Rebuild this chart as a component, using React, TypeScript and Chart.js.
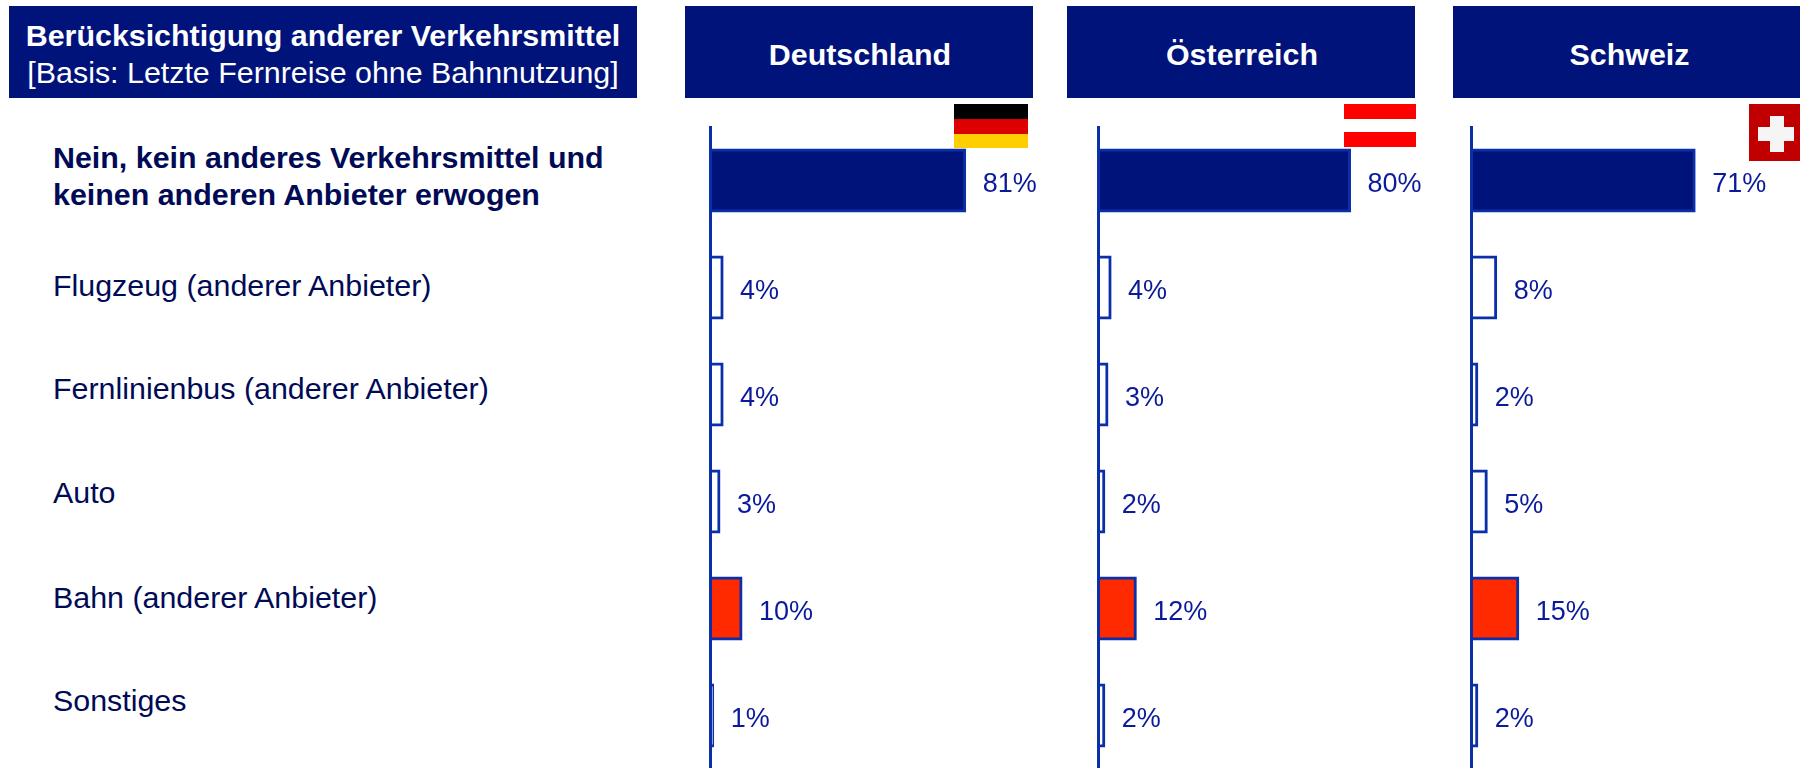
import React, { useEffect, useRef } from "react";
import { Chart, registerables } from "chart.js";

Chart.register(...registerables);

const categories = [
  "Nein, kein anderes Verkehrsmittel und\nkeinen anderen Anbieter erwogen",
  "Flugzeug (anderer Anbieter)",
  "Fernlinienbus (anderer Anbieter)",
  "Auto",
  "Bahn (anderer Anbieter)",
  "Sonstiges",
];
const germany = [81, 4, 4, 3, 10, 1];
const austria = [80, 4, 3, 2, 12, 2];
const switzerland = [71, 8, 2, 5, 15, 2];
const countries = ["Deutschland", "Österreich", "Schweiz"];
const titleBold = "Berücksichtigung anderer Verkehrsmittel";
const titleBasis = "[Basis: Letzte Fernreise ohne Bahnnutzung]";

const NAVY = "#00137A";
const EDGE = "#0B2FA8";
const RED = "#FF2A00";
const VALUE_TEXT = "#0A1A9A";
const LABEL_TEXT = "#000A55";
const FONT = '"Liberation Sans", Arial, sans-serif';

const fills = [NAVY, "#FFFFFF", "#FFFFFF", "#FFFFFF", RED, "#FFFFFF"];
const labelCenters = [176, 285, 388, 491.5, 597, 700];
const headerBoxes = [
  { left: 685, width: 348 },
  { left: 1067, width: 348 },
  { left: 1453, width: 351 },
];
const axisLefts = [709.5, 1097.5, 1470.5];
const PAD_LEFT = 4;
const PAD_TOP = 1;
const CANVAS_W = 334;
const CANVAS_TOP = 126;
const CANVAS_H = 643;

const valueLabels = {
  id: "valueLabels",
  afterDatasetsDraw(chart: any) {
    const { ctx } = chart;
    const meta = chart.getDatasetMeta(0);
    ctx.save();
    ctx.font = `27px ${FONT}`;
    ctx.fillStyle = VALUE_TEXT;
    ctx.textAlign = "left";
    ctx.textBaseline = "middle";
    meta.data.forEach((bar: any, i: number) => {
      ctx.fillText(`${chart.data.datasets[0].data[i]}%`, bar.x + 17.5, bar.y + 4);
    });
    ctx.restore();
  },
};

function Panel({ values, axisLeft }: { values: number[]; axisLeft: number }) {
  const ref = useRef<HTMLCanvasElement>(null);
  useEffect(() => {
    const chart = new Chart(ref.current!, {
      type: "bar",
      data: {
        labels: categories.map((c) => c.replace("\n", " ")),
        datasets: [
          {
            data: values,
            backgroundColor: fills,
            borderColor: EDGE,
            borderWidth: 3,
            inflateAmount: 1,
            barPercentage: 0.58,
            categoryPercentage: 1,
          },
        ],
      },
      options: {
        indexAxis: "y",
        animation: false,
        responsive: false,
        maintainAspectRatio: false,
        layout: { padding: { left: PAD_LEFT, right: 15, top: PAD_TOP, bottom: 0 } },
        plugins: { legend: { display: false }, tooltip: { enabled: false } },
        scales: {
          x: { display: false, min: 0, max: 100 },
          y: {
            afterFit(scale: any) {
              scale.width = 0;
            },
            ticks: { display: false },
            grid: { display: false, drawTicks: false },
            border: { display: true, color: EDGE, width: 3, z: 1 },
          },
        },
      } as any,
      plugins: [valueLabels],
    });
    return () => chart.destroy();
  }, []);
  return (
    <canvas
      ref={ref}
      width={CANVAS_W}
      height={CANVAS_H}
      style={{
        position: "absolute",
        left: axisLeft - PAD_LEFT,
        top: CANVAS_TOP,
        width: CANVAS_W,
        height: CANVAS_H,
      }}
    />
  );
}

const box = (left: number, width: number): React.CSSProperties => ({
  position: "absolute",
  left,
  top: 6,
  width,
  height: 92,
  background: NAVY,
  color: "#FFFFFF",
  display: "flex",
  flexDirection: "column",
  alignItems: "center",
  justifyContent: "center",
});

const abs = (left: number, top: number, width: number, height: number, background: string): React.CSSProperties => ({
  position: "absolute",
  left,
  top,
  width,
  height,
  background,
});

export default function App() {
  const series = [germany, austria, switzerland];
  return (
    <div
      style={{
        position: "fixed",
        left: 0,
        top: 0,
        width: 1800,
        height: 768,
        overflow: "hidden",
        background: "#FFFFFF",
        fontFamily: FONT,
      }}
    >
      <div style={box(9, 628)}>
        <div style={{ fontSize: 30.4, fontWeight: 700, lineHeight: "37px", whiteSpace: "nowrap", position: "relative", top: 2 }}>{titleBold}</div>
        <div style={{ fontSize: 30.4, lineHeight: "37px", whiteSpace: "nowrap", position: "relative", top: 2 }}>{titleBasis}</div>
      </div>
      {countries.map((c, i) => (
        <div key={c} style={box(headerBoxes[i].left, headerBoxes[i].width)}>
          <div style={{ fontSize: 30.4, fontWeight: 700, position: "relative", top: 2, left: 1 }}>{c}</div>
        </div>
      ))}

      {categories.map((c, i) => (
        <div
          key={c}
          style={{
            position: "absolute",
            left: 53,
            top: labelCenters[i],
            transform: "translateY(-50%)",
            fontSize: 30.4,
            lineHeight: "37px",
            whiteSpace: "pre",
            color: LABEL_TEXT,
            fontWeight: i === 0 ? 700 : 400,
          }}
        >
          {c}
        </div>
      ))}

      {series.map((v, i) => (
        <Panel key={i} values={v} axisLeft={axisLefts[i]} />
      ))}

      {/* flags */}
      <div style={abs(954, 104, 74, 15, "#000000")} />
      <div style={abs(954, 119, 74, 15, "#DD0000")} />
      <div style={abs(954, 134, 74, 14, "#FFCE00")} />

      <div style={abs(1344, 104, 72, 15, "#FF0000")} />
      <div style={abs(1344, 132, 72, 15, "#FF0000")} />

      <div style={abs(1749, 104, 51, 57, "#C00000")} />
      <div style={abs(1770, 116, 14, 36, "#F5F5F5")} />
      <div style={abs(1758, 127, 36, 14, "#F5F5F5")} />
    </div>
  );
}
